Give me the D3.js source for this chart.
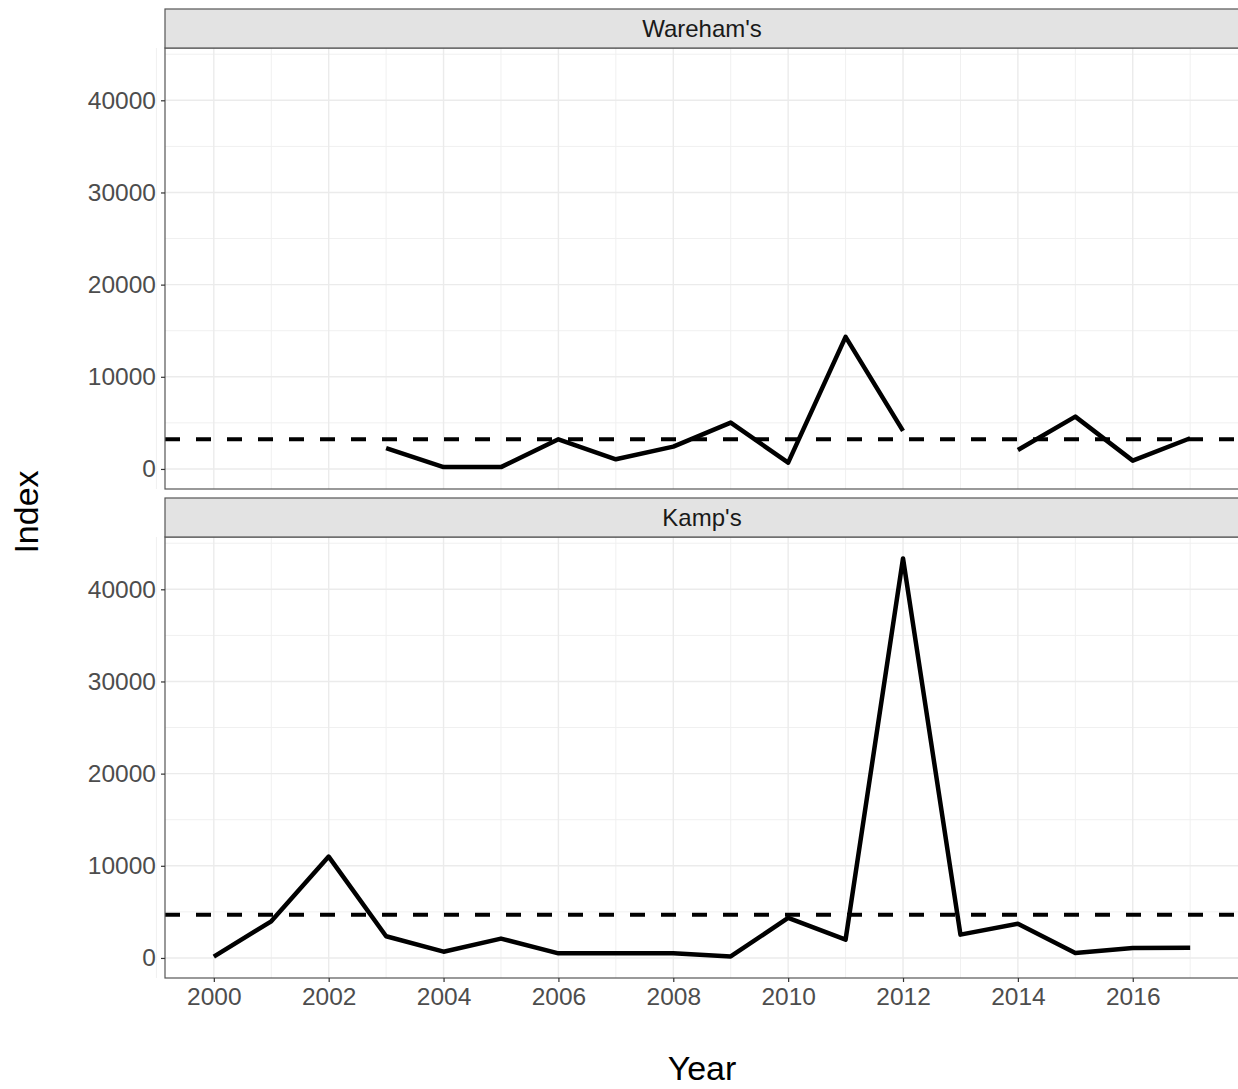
<!DOCTYPE html>
<html>
<head>
<meta charset="utf-8">
<script src="https://cdn.jsdelivr.net/npm/d3@7"></script>
<style>
  body { margin: 0; background: #fff; }
  svg { display: block; font-family: "Liberation Sans", Arial, sans-serif; }
</style>
</head>
<body>
<div id="chart"></div>
<script>
// Data
const years = [2000, 2001, 2002, 2003, 2004, 2005, 2006, 2007, 2008,
               2009, 2010, 2011, 2012, 2013, 2014, 2015, 2016, 2017];
const warehamIndex = [null, null, null, 2250, 200, 200, 3220, 1050, 2420,
                      5030, 690, 14330, 4130, null, 2060, 5680, 900, 3330];
const kampIndex = [150, 3970, 11000, 2350, 680, 2100, 500, 500, 520,
                   170, 4340, 1990, 43350, 2530, 3720, 540, 1090, 1120];
const facetNames = ["Wareham's", "Kamp's"];
const meanLines = [3230, 4700];
const xTicks = [2000, 2002, 2004, 2006, 2008, 2010, 2012, 2014, 2016];
const yTicks = [0, 10000, 20000, 30000, 40000];

const width = 1238, height = 1089;
const panelLeft = 165, panelRight = 1239;
const stripH = 39, panelH = 441;
const panelTops = [48, 537];

const svg = d3.select("#chart").append("svg")
  .attr("width", width)
  .attr("height", height);

const x = d3.scaleLinear()
  .domain([1999.15, 2017.85])
  .range([panelLeft, panelRight]);

const series = [warehamIndex, kampIndex];

series.forEach((vals, i) => {
  const top = panelTops[i];
  const bottom = top + panelH;
  const y = d3.scaleLinear().domain([-2175, 45675]).range([bottom, top]);
  const g = svg.append("g");

  // panel background
  g.append("rect")
    .attr("x", panelLeft).attr("y", top)
    .attr("width", panelRight - panelLeft).attr("height", panelH)
    .attr("fill", "#fff");

  // minor grid
  const minorX = d3.range(1999, 2019, 2);
  const minorY = d3.range(5000, 50000, 10000);
  g.selectAll(".mx").data(minorX).join("line")
    .attr("x1", d => x(d)).attr("x2", d => x(d))
    .attr("y1", top).attr("y2", bottom)
    .attr("stroke", "#f0f0f0").attr("stroke-width", 1);
  g.selectAll(".my").data(minorY).join("line")
    .attr("x1", panelLeft).attr("x2", panelRight)
    .attr("y1", d => y(d)).attr("y2", d => y(d))
    .attr("stroke", "#f0f0f0").attr("stroke-width", 1);

  // major grid
  g.selectAll(".gx").data(xTicks).join("line")
    .attr("x1", d => x(d)).attr("x2", d => x(d))
    .attr("y1", top).attr("y2", bottom)
    .attr("stroke", "#ebebeb").attr("stroke-width", 1.4);
  g.selectAll(".gy").data(yTicks).join("line")
    .attr("x1", panelLeft).attr("x2", panelRight)
    .attr("y1", d => y(d)).attr("y2", d => y(d))
    .attr("stroke", "#ebebeb").attr("stroke-width", 1.4);

  // mean line
  g.append("line")
    .attr("x1", panelLeft).attr("x2", panelRight)
    .attr("y1", y(meanLines[i])).attr("y2", y(meanLines[i]))
    .attr("stroke", "#000").attr("stroke-width", 4)
    .attr("stroke-dasharray", "15,16");

  // index line
  const line = d3.line()
    .defined(d => d[1] !== null)
    .x(d => x(d[0]))
    .y(d => y(d[1]));
  g.append("path")
    .datum(years.map((yr, k) => [yr, vals[k]]))
    .attr("d", line)
    .attr("fill", "none")
    .attr("stroke", "#000")
    .attr("stroke-width", 4.5)
    .attr("stroke-linejoin", "round");

  // panel border
  g.append("rect")
    .attr("x", panelLeft).attr("y", top)
    .attr("width", panelRight - panelLeft).attr("height", panelH)
    .attr("fill", "none").attr("stroke", "#555").attr("stroke-width", 1.2);

  // strip
  g.append("rect")
    .attr("x", panelLeft).attr("y", top - stripH)
    .attr("width", panelRight - panelLeft).attr("height", stripH)
    .attr("fill", "#e3e3e3").attr("stroke", "#555").attr("stroke-width", 1.2);
  g.append("text")
    .attr("x", (panelLeft + panelRight) / 2)
    .attr("y", top - stripH / 2)
    .attr("dy", "0.36em")
    .attr("text-anchor", "middle")
    .attr("font-size", 24)
    .attr("fill", "#1a1a1a")
    .text(facetNames[i]);

  // y axis
  const yAxis = g.append("g")
    .attr("transform", `translate(${panelLeft},0)`)
    .call(d3.axisLeft(y).tickValues(yTicks).tickSize(4).tickPadding(5).tickFormat(d3.format("d")));
  yAxis.select(".domain").remove();
  yAxis.selectAll(".tick line").attr("stroke", "#333").attr("stroke-width", 1.2);
  yAxis.selectAll(".tick text")
    .attr("font-size", 24.5)
    .attr("fill", "#4d4d4d")
    .attr("font-family", "'Liberation Sans', Arial, sans-serif");

  // x axis only on bottom panel
  if (i === series.length - 1) {
    const xAxis = g.append("g")
      .attr("transform", `translate(0,${bottom})`)
      .call(d3.axisBottom(x).tickValues(xTicks).tickSize(4).tickPadding(6).tickFormat(d3.format("d")));
    xAxis.select(".domain").remove();
    xAxis.selectAll(".tick line").attr("stroke", "#333").attr("stroke-width", 1.2);
    xAxis.selectAll(".tick text")
      .attr("font-size", 24.5)
      .attr("fill", "#4d4d4d")
      .attr("font-family", "'Liberation Sans', Arial, sans-serif");
  }
});

// axis titles
svg.append("text")
  .attr("transform", `translate(38,512) rotate(-90)`)
  .attr("text-anchor", "middle")
  .attr("font-size", 34)
  .attr("fill", "#000")
  .text("Index");

svg.append("text")
  .attr("x", (panelLeft + panelRight) / 2)
  .attr("y", 1080)
  .attr("text-anchor", "middle")
  .attr("font-size", 34)
  .attr("fill", "#000")
  .text("Year");
</script>
</body>
</html>
